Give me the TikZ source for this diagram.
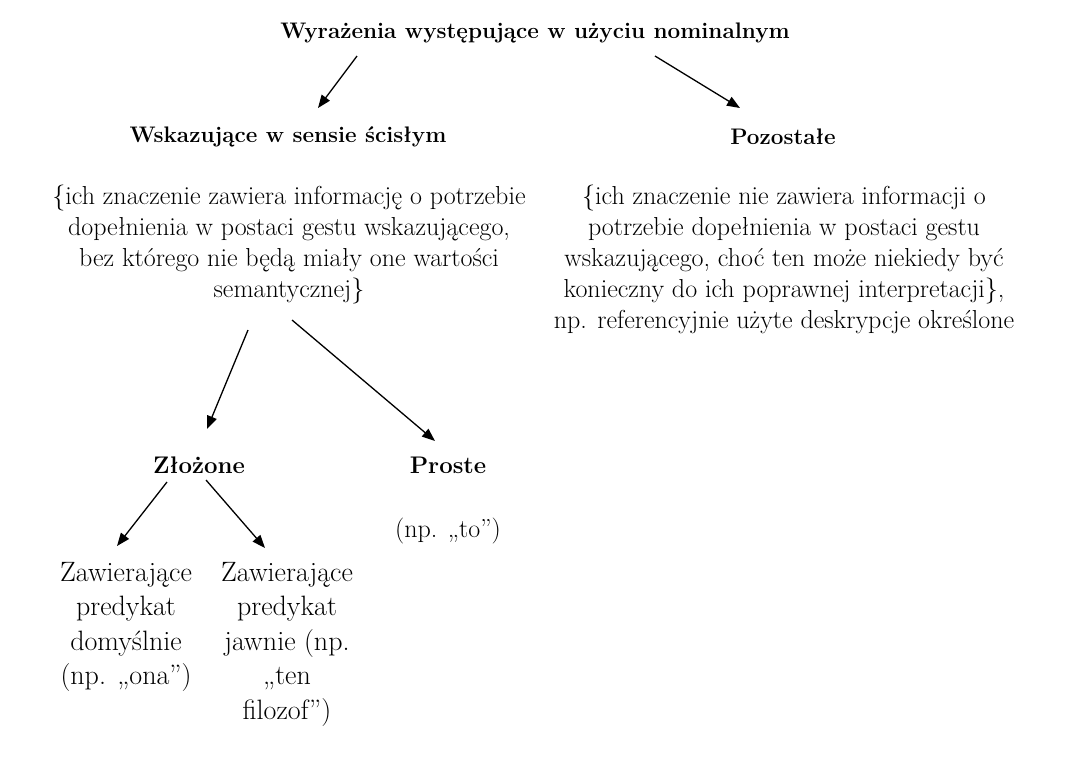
\documentclass[tikz,border=0pt]{standalone}
\usepackage{fontspec}
\usetikzlibrary{arrows.meta}
\begin{document}
\begin{tikzpicture}[x=1pt,y=-1pt,
  txt/.style={align=center, inner sep=0pt, font=\fontsize{26}{31}\selectfont},
  hd/.style={inner sep=0pt, font=\fontsize{22.5}{28}\selectfont\bfseries},
  hdb/.style={inner sep=0pt, font=\fontsize{24}{29}\selectfont\bfseries},
  low/.style={align=center, inner sep=0pt, font=\fontsize{28}{34.5}\selectfont},
  arr/.style={-{Triangle[length=13pt,width=10pt]}, line width=1.3pt}]
\useasboundingbox[fill=white] (0,0) rectangle (1068,756);

\node[hd] (title) at (535,33) {Wyrażenia występujące w użyciu nominalnym};
\node[hd] (wsk) at (288,137) {Wskazujące w sensie ścisłym};
\node[hd] (poz) at (783,137) {Pozostałe};

\node[txt] (lbody) at (289,244) {\{ich znaczenie zawiera informację o potrzebie\\
dopełnienia w postaci gestu wskazującego,\\
bez którego nie będą miały one wartości\\
semantycznej\}};

\node[txt] (rbody) at (784,259) {\{ich znaczenie nie zawiera informacji o\\
potrzebie dopełnienia w postaci gestu\\
wskazującego, choć ten może niekiedy być\\
konieczny do ich poprawnej interpretacji\},\\
np. referencyjnie użyte deskrypcje określone};

\node[hdb] (zloz) at (199,465) {Złożone};
\node[hdb] (prost) at (448,465) {Proste};
\node[txt] (to) at (448,531) {(np. „to”)};

\node[low] (dom) at (126,627) {Zawierające\\predykat\\domyślnie\\(np. „ona”)};
\node[low] (jaw) at (287,644) {Zawierające\\predykat\\jawnie (np.\\„ten\\filozof”)};

\coordinate (t1) at (357,56);  \coordinate (e1) at (318,108);
\coordinate (t2) at (655,56);  \coordinate (e2) at (740,108);
\coordinate (l1) at (248,330); \coordinate (e3) at (207,429);
\coordinate (l2) at (292,320); \coordinate (e4) at (435,441);
\coordinate (z1) at (167,482); \coordinate (e5) at (117,546);
\coordinate (z2) at (206,480); \coordinate (e6) at (265,548);

\draw[arr] (t1) -- (e1);
\draw[arr] (t2) -- (e2);
\draw[arr] (l1) -- (e3);
\draw[arr] (l2) -- (e4);
\draw[arr] (z1) -- (e5);
\draw[arr] (z2) -- (e6);
\end{tikzpicture}
\end{document}
